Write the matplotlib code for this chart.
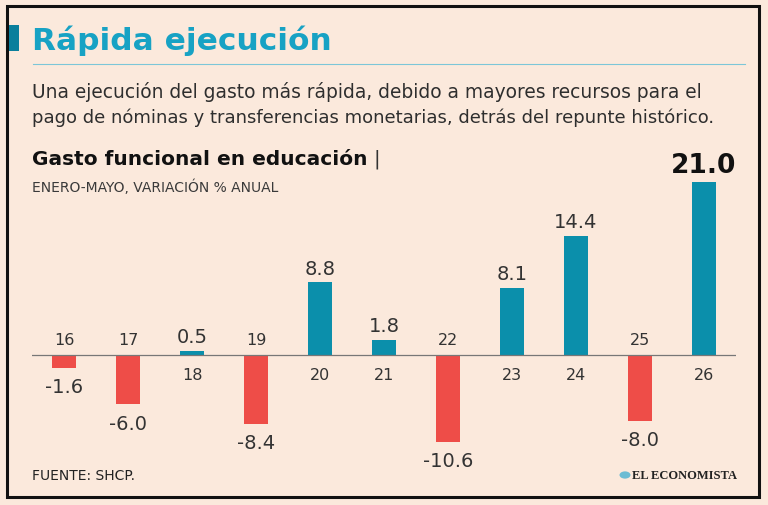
import matplotlib
matplotlib.use("Agg")
import matplotlib.pyplot as plt
from matplotlib.patches import Rectangle, Circle
from matplotlib.lines import Line2D

plt.rcParams['font.family'] = ['DejaVu Sans']

years = ['16', '17', '18', '19', '20', '21', '22', '23', '24', '25', '26']
values = [-1.6, -6.0, 0.5, -8.4, 8.8, 1.8, -10.6, 8.1, 14.4, -8.0, 21.0]
value_labels = ['-1.6', '-6.0', '0.5', '-8.4', '8.8', '1.8', '-10.6', '8.1', '14.4', '-8.0', '21.0']

bg = '#fbe9dc'
teal = '#0b8fab'
red = '#ee4d48'
W, H = 768, 506

fig = plt.figure(figsize=(W / 100, H / 100), dpi=100, facecolor=bg)


def fx(px):
    return px / W


def fy(py):
    return 1 - py / H


# frame
fig.add_artist(Rectangle((fx(7), fy(498)), fx(752), (491) / H, fill=False,
                         edgecolor='#111111', lw=2.2, transform=fig.transFigure))
fig.add_artist(Rectangle((fx(9), fy(52)), fx(10), 26 / H, facecolor='#0a7f9c',
                         edgecolor='none', transform=fig.transFigure))

fig.text(fx(32), fy(41), 'Rápida ejecución', fontsize=22.5, fontweight='bold',
         color='#17a2c4', va='center', ha='left')
fig.add_artist(Line2D([fx(33), fx(745)], [fy(65), fy(65)], color='#7cc6d8', lw=0.8,
                      transform=fig.transFigure))

fig.text(fx(32), fy(92), 'Una ejecución del gasto más rápida, debido a mayores recursos para el',
         fontsize=13.4, color='#2e2e2e', va='center', ha='left')
fig.text(fx(32), fy(118), 'pago de nóminas y transferencias monetarias, detrás del repunte histórico.',
         fontsize=13.0, color='#2e2e2e', va='center', ha='left')

fig.text(fx(32), fy(160), 'Gasto funcional en educación', fontsize=14.5, fontweight='bold',
         color='#111111', va='center', ha='left')
fig.text(fx(374), fy(159), '|', fontsize=14, color='#333333', va='center', ha='left')
fig.text(fx(32), fy(187), 'ENERO-MAYO, VARIACIÓN % ANUAL', fontsize=10, color='#3a3a3a',
         va='center', ha='left')

fig.text(fx(32), fy(476), 'FUENTE: SHCP.', fontsize=10, color='#222222', va='center',
         ha='left')
fig.add_artist(Circle((fx(625), fy(476)), 5.5 / W, facecolor='#6cbcd3', edgecolor='none',
                      transform=fig.transFigure))
fig.text(fx(632), fy(476), 'EL ECONOMISTA', fontsize=9, fontweight='bold', color='#222222',
         va='center', ha='left', family=['Liberation Serif', 'DejaVu Serif'])

# bar chart axes: x pixel 32..736, zero at y=356, 8.24 px per unit
scale = 8.24
top_px, bot_px = 170, 470
ax = fig.add_axes([fx(32), fy(bot_px), fx(704), (bot_px - top_px) / H])
ax.set_facecolor('none')
ax.set_xlim(-0.5, len(years) - 0.5)
ax.set_ylim((356 - bot_px) / scale, (356 - top_px) / scale)
ax.axis('off')

x = list(range(len(years)))
colors = [teal if v >= 0 else red for v in values]
ax.bar(x, values, width=0.375, color=colors, zorder=2)
ax.axhline(0, color='#777777', lw=0.9, zorder=3)

for i, (yr, v, lab) in enumerate(zip(years, values, value_labels)):
    if v >= 0:
        if lab == '21.0':
            ax.text(i, v + 0.5, lab, ha='center', va='bottom', fontsize=19,
                    fontweight='bold', color='#111111')
        else:
            ax.text(i, v + 0.6, lab, ha='center', va='bottom', fontsize=14,
                    color='#333333')
        ax.text(i, -1.4, yr, ha='center', va='top', fontsize=11.5, color='#333333')
    else:
        ax.text(i, v - 1.1, lab, ha='center', va='top', fontsize=14, color='#333333')
        ax.text(i, 1.0, yr, ha='center', va='bottom', fontsize=11.5, color='#333333')

fig.savefig('out.png', dpi=100, facecolor=bg)
